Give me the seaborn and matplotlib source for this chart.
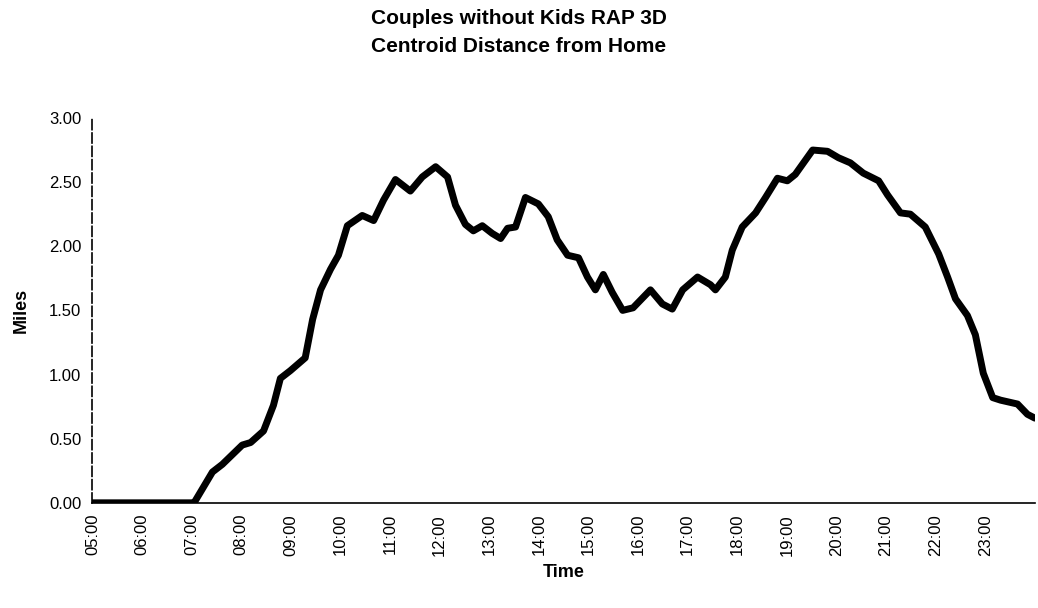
import numpy as np
import pandas as pd
import matplotlib
matplotlib.use('Agg')
import matplotlib.pyplot as plt
import seaborn as sns

# hours of the day (decimal) and centroid distance in miles
hours = [5.0, 6.0, 7.0, 7.05, 7.42, 7.62, 8.02, 8.19, 8.45, 8.65, 8.79, 8.99,
         9.29, 9.44, 9.6, 9.8, 9.96, 10.14, 10.44, 10.67, 10.87, 11.11, 11.41,
         11.65, 11.92, 12.16, 12.32, 12.52, 12.68, 12.86, 13.06, 13.23, 13.37,
         13.53, 13.73, 13.99, 14.19, 14.37, 14.58, 14.8, 14.98, 15.14, 15.3,
         15.48, 15.69, 15.9, 16.25, 16.49, 16.69, 16.9, 17.2, 17.46, 17.56,
         17.76, 17.9, 18.1, 18.37, 18.57, 18.81, 19.01, 19.17, 19.52, 19.82,
         20.04, 20.28, 20.54, 20.85, 21.03, 21.29, 21.49, 21.79, 22.06, 22.24,
         22.4, 22.64, 22.8, 22.96, 23.15, 23.31, 23.65, 23.85, 24.0]
miles = [0.0, 0.0, 0.0, 0.0, 0.24, 0.30, 0.45, 0.47, 0.56, 0.76, 0.97, 1.03,
         1.13, 1.43, 1.66, 1.82, 1.93, 2.16, 2.24, 2.20, 2.36, 2.52, 2.43,
         2.54, 2.62, 2.54, 2.32, 2.17, 2.12, 2.16, 2.10, 2.06, 2.14,
         2.15, 2.38, 2.33, 2.23, 2.05, 1.93, 1.91, 1.76, 1.66, 1.78,
         1.64, 1.50, 1.52, 1.66, 1.55, 1.51, 1.66, 1.76, 1.70, 1.66,
         1.76, 1.97, 2.15, 2.26, 2.38, 2.53, 2.51, 2.56, 2.75, 2.74,
         2.69, 2.65, 2.57, 2.51, 2.40, 2.26, 2.25, 2.15, 1.94, 1.76,
         1.59, 1.46, 1.31, 1.01, 0.82, 0.80, 0.77, 0.69, 0.66]

tick_hours = list(range(5, 24))
tick_labels = ['%02d:00' % h for h in tick_hours]
y_ticks = [0.0, 0.5, 1.0, 1.5, 2.0, 2.5, 3.0]

df = pd.DataFrame({'Time': hours, 'Miles': miles})

sns.set_style('white')
plt.rcParams['font.family'] = ['Liberation Sans', 'DejaVu Sans']
plt.rcParams['text.color'] = 'black'
plt.rcParams['axes.labelcolor'] = 'black'
plt.rcParams['xtick.color'] = 'black'
plt.rcParams['ytick.color'] = 'black'

fig = plt.figure(figsize=(10.38, 6.08), dpi=100)
ax = fig.add_axes([0.089, 0.173, 0.908, 0.633])

sns.lineplot(data=df, x='Time', y='Miles', ax=ax, color='black', linewidth=5,
             solid_capstyle='round', solid_joinstyle='round')

ax.set_xlim(5, 24)
ax.set_ylim(0, 3)
ax.set_xticks(tick_hours + [24])
ax.set_xticklabels(tick_labels + [''], rotation=90, fontsize=12)
ax.set_yticks(y_ticks)
ax.set_yticklabels(['%.2f' % v for v in y_ticks], fontsize=12)
ax.tick_params(axis='both', direction='in', length=5, width=1, color='black', pad=8)
ax.tick_params(axis='x', length=4, pad=8)

for side in ['top', 'right']:
    ax.spines[side].set_visible(False)
for side in ['left', 'bottom']:
    ax.spines[side].set_color('black')
    ax.spines[side].set_linewidth(1.2)
ax.spines['left'].set_linestyle((0, (6, 2)))

ax.set_xlabel('Time', fontsize=13, fontweight='bold', labelpad=6)
ax.set_ylabel('Miles', fontsize=13, fontweight='bold', labelpad=14)

fig.suptitle('Couples without Kids RAP 3D\nCentroid Distance from Home',
             x=0.5, y=0.985, fontsize=15, fontweight='bold', linespacing=1.6,
             color='black')

plt.savefig('out.png', dpi=100)
